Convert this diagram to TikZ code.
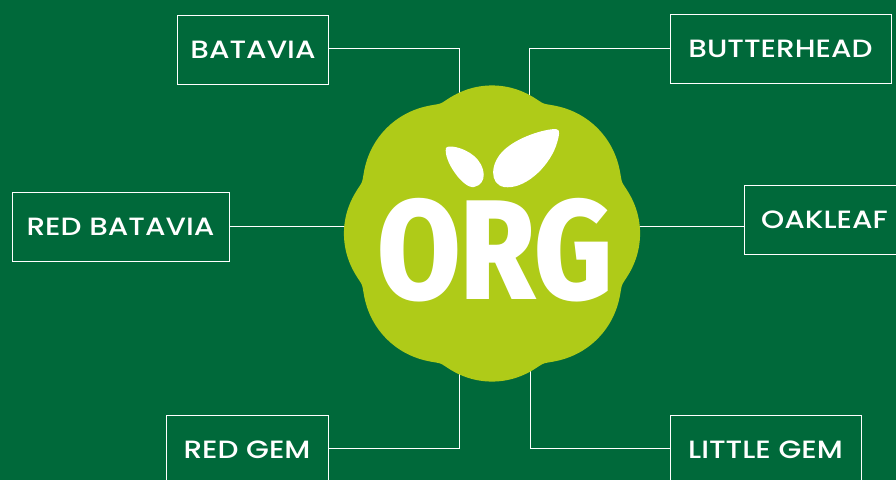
\documentclass[tikz,border=0pt]{standalone}
\usepackage{fontspec}
\setmainfont{Poppins}[UprightFont=* Medium,FakeStretch=1.18]
\newfontfamily\orgfont{Fira Sans}[UprightFont=* ExtraBold]
\definecolor{bggreen}{HTML}{00693A}
\definecolor{limegreen}{HTML}{AFCB18}
\newcommand{\labelsize}{\fontsize{25}{25}\selectfont}
\pgfmathdeclarefunction{badger}{1}{%
	\pgfmathparse{abs(mod(#1+45,90)-45)}\let\badgeu\pgfmathresult
	\pgfmathparse{71*cos(\badgeu)+sqrt(5929-5041*sin(\badgeu)*sin(\badgeu))}\let\badgea\pgfmathresult
	\pgfmathparse{69*cos(45-\badgeu)+sqrt(6400-4761*sin(45-\badgeu)*sin(45-\badgeu))}\let\badgeb\pgfmathresult
	\pgfmathparse{0.5*(\badgea+\badgeb+sqrt((\badgea-\badgeb)^2+9))}%
}
\tikzset{
	labelbox/.style={draw=white, line width=0.7pt, text=white, minimum height=69pt, inner sep=0pt, font=\labelsize},
	link/.style={draw=white, line width=0.7pt},
	leaf/.style={fill=white, draw=none}
}
\begin{document}
\begin{tikzpicture}[x=1pt,y=-1pt]
	\path[use as bounding box, fill=bggreen] (0,0) rectangle (896,480);
	\clip (0,0) rectangle (896,480);
	\node[labelbox, minimum width=151pt] (batavia) at (253,49.5) {BATAVIA};
	\node[labelbox, minimum width=221pt] (butterhead) at (780.5,48.5) {BUTTERHEAD};
	\node[labelbox, minimum width=217pt] (redbatavia) at (120.5,226.5) {RED BATAVIA};
	\node[labelbox, minimum width=160pt] (oakleaf) at (824.5,219.5) {OAKLEAF};
	\node[labelbox, minimum width=162pt] (redgem) at (247,449.5) {RED GEM};
	\node[labelbox, minimum width=191pt] (littlegem) at (765.5,449.5) {LITTLE GEM};
	\coordinate (orgtl) at (459,100);
	\coordinate (orgtr) at (529,100);
	\coordinate (orgbl) at (459,370);
	\coordinate (orgbr) at (530,370);
	\coordinate (orgl) at (350,226.5);
	\coordinate (orgr) at (630,226.5);
	\draw[link] ([yshift=1pt]batavia.east) -| (orgtl);
	\draw[link] (butterhead.west) -| (orgtr);
	\draw[link] (redbatavia.east) -- (orgl);
	\draw[link] (oakleaf.west |- orgr) -- (orgr);
	\draw[link] ([yshift=1.5pt]redgem.east) -| (orgbl);
	\draw[link] ([yshift=1.5pt]littlegem.west) -| (orgbr);
	% scalloped badge
	\fill[limegreen] plot[domain=0:359.5, samples=720] ({492+badger(\x)*cos(\x)},{233.5+badger(\x)*sin(\x)}) -- cycle;
	\node[text=white, inner sep=0pt, font=\orgfont\fontsize{100}{100}\selectfont, xscale=1.21, yscale=1.42] (orgtext) at (495,250.5) {ORG};
	% leaves
	\fill[leaf] (446,148) .. controls (447,145) and (462,146) .. (474,156) .. controls (486,166) and (488,184) .. (474,187) .. controls (463,189) and (443,160) .. (446,148) -- cycle;
	\fill[leaf] (556,129) .. controls (561,129) and (559,137) .. (556,146) .. controls (548,168) and (524,190) .. (504,187) .. controls (489,184) and (490,163) .. (504,150) .. controls (518,137) and (544,129) .. (556,129) -- cycle;
\end{tikzpicture}
\end{document}
